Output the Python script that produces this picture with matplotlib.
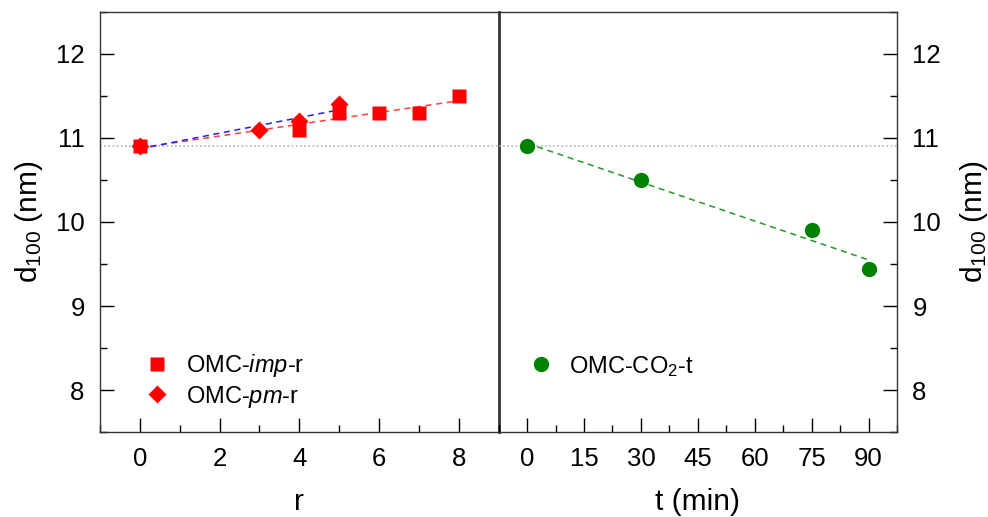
import numpy as np
import matplotlib
matplotlib.use("Agg")
from matplotlib import pyplot as plt
from matplotlib.ticker import MultipleLocator

plt.rcParams['font.family'] = ['Liberation Sans', 'DejaVu Sans']
plt.rcParams['mathtext.fontset'] = 'custom'
plt.rcParams['mathtext.rm'] = 'Liberation Sans'
plt.rcParams['mathtext.it'] = 'Liberation Sans:italic'

# data
r_imp = [0, 4, 5, 6, 7, 8]
d_imp = [10.9, 11.1, 11.3, 11.3, 11.3, 11.5]
r_pm = [0, 3, 4, 5]
d_pm = [10.9, 11.1, 11.2, 11.4]
t_co2 = [0, 30, 75, 90]
d_co2 = [10.9, 10.5, 9.9, 9.44]
d_ref = 10.9

fig = plt.figure(figsize=(9.88, 5.17), dpi=100)
axL = fig.add_axes([0.1012, 0.1644, 0.4035, 0.8124])
axR = fig.add_axes([0.5047, 0.1644, 0.4032, 0.8124])
axR.patch.set_visible(False)

# linear fits
p_imp = np.polyfit(r_imp, d_imp, 1)
p_pm = np.polyfit(r_pm, d_pm, 1)
p_co2 = np.polyfit(t_co2, d_co2, 1)

for ax in (axL, axR):
    ax.axhline(d_ref, color='#b4b4b4', ls=(0, (1, 1.5)), lw=1.2, zorder=1)

xx = np.array([0, 8])
axL.plot(xx, np.polyval(p_imp, xx), '--', color='#ff4040', lw=1.1, dashes=(4, 3), zorder=2)
xx = np.array([0, 5])
axL.plot(xx, np.polyval(p_pm, xx), '--', color='#2020ff', lw=1.1, dashes=(4, 3), zorder=2)
axL.plot(r_imp, d_imp, 's', color='#ff0000', ms=10, mec='none', label='OMC-$\\mathit{imp}$-r', zorder=3)
axL.plot(r_pm, d_pm, 'D', color='#ff0000', ms=9.5, mec='none', label='OMC-$\\mathit{pm}$-r', zorder=3)

xx = np.array([0, 90])
axR.plot(xx, np.polyval(p_co2, xx), '--', color='#229922', lw=1.1, dashes=(4, 3), zorder=2)
axR.plot(t_co2, d_co2, 'o', color='#008000', ms=11, mec='none', label='OMC-CO$_2$-t', zorder=3)

axL.set_xlim(-1, 9)
axR.set_xlim(-7.5, 97.5)
for ax in (axL, axR):
    ax.set_ylim(7.5, 12.5)
    ax.yaxis.set_major_locator(MultipleLocator(1))
    ax.yaxis.set_minor_locator(MultipleLocator(0.5))
    ax.tick_params(which='major', direction='in', length=10, width=1, labelsize=18.5, pad=11)
    ax.tick_params(which='minor', direction='in', length=5, width=1)
    for s in ax.spines.values():
        s.set_linewidth(1)
        s.set_color('#333333')

axL.xaxis.set_major_locator(MultipleLocator(2))
axL.xaxis.set_minor_locator(MultipleLocator(1))
axR.xaxis.set_major_locator(MultipleLocator(15))
axR.xaxis.set_minor_locator(MultipleLocator(7.5))

axL.tick_params(which='both', top=False, right=False, left=True)
axR.tick_params(which='both', top=False, left=False, right=True, labelleft=False, labelright=True)
axR.spines['left'].set_visible(False)
axL.spines['right'].set_linewidth(2)
axL.spines['right'].set_zorder(5)
axR.yaxis.set_label_position('right')

axL.set_ylabel('d$_{100}$ (nm)', fontsize=21.5, labelpad=8)
axR.set_ylabel('d$_{100}$ (nm)', fontsize=21.5, labelpad=12)
axL.set_xlabel('r', fontsize=21.5, labelpad=12)
axR.set_xlabel('t (min)', fontsize=21.5, labelpad=12)

axL.legend(loc='center left', bbox_to_anchor=(0.108, 0.122), frameon=False, fontsize=17,
           borderpad=0, borderaxespad=0, handletextpad=0.6, labelspacing=0.2, handlelength=1.2)
axR.legend(loc='center left', bbox_to_anchor=(0.07, 0.157), frameon=False, fontsize=17,
           borderpad=0, borderaxespad=0, handletextpad=0.6, handlelength=1.2)

fig.savefig('out.png', dpi=100)
